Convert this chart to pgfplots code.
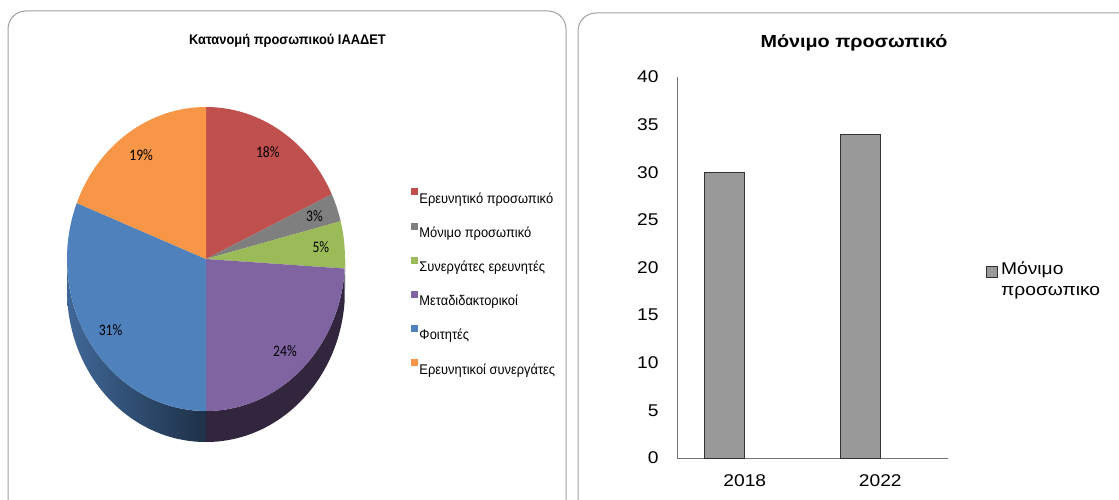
\documentclass[border=0pt]{standalone}
\usepackage{pgfplots}
\pgfplotsset{compat=1.18}
\usepackage{pgfplotstable}
\usepackage{fontspec}
\setmainfont{Liberation Sans}
\newfontfamily\rfont[FakeStretch=1.13]{Liberation Sans}
\newfontfamily\lfont[FakeStretch=0.92]{Liberation Sans}
\newfontfamily\pfont[FakeStretch=0.85]{Carlito}
\newcommand\pctfont{\pfont\fontsize{16}{19}\selectfont}

\definecolor{cRed}{HTML}{C0504D}
\definecolor{cGray}{HTML}{7F7F7F}
\definecolor{cGreen}{HTML}{9BBB59}
\definecolor{cPurple}{HTML}{8064A2}
\definecolor{cBlue}{HTML}{4F81BD}
\definecolor{cOrange}{HTML}{F79646}
\definecolor{barGray}{HTML}{999999}
\definecolor{panelGray}{HTML}{A0A0A0}

% pie: share in percent, slices clockwise from the top
\pgfplotstableread{
value color
18 cRed
3 cGray
5 cGreen
24 cPurple
31 cBlue
19 cOrange
}\piedata

% bar chart: permanent staff
\pgfplotstableread{
x year staff
0 2018 30
1 2022 34
}\bardata

\def\rx{139pt}
\def\ry{152pt}
\def\depth{0.204}

\begin{document}
\begin{tikzpicture}[x=1pt,y=1pt]
\useasboundingbox (0,0) rectangle (1119,499);
\clip (0,0) rectangle (1119,499);
% panels
\draw[panelGray, line width=1pt, fill=white, rounded corners=18pt] (8,488) rectangle (566,-20);
\draw[panelGray, line width=1pt, fill=white, rounded corners=18pt] (578,486) rectangle (1140,-20);

% titles
\node[font=\lfont\bfseries\fontsize{14}{16}\selectfont] at (287.5,458) {Κατανομή προσωπικού ΙΑΑΔΕΤ};
\node[font=\rfont\bfseries\fontsize{17.5}{20}\selectfont] at (854,456) {Μόνιμο προσωπικό};

% ---------------- pie ----------------
\begin{axis}[
  at={(206pt,240pt)}, anchor=center,
  hide axis, clip=false,
  x=139pt, y=152pt,
  xmin=-1, xmax=1, ymin=-1, ymax=1,
  legend image code/.code={\fill[#1] (0pt,5pt) rectangle (6pt,11pt);},
  legend cell align=left,
  legend style={at={(axis description cs:1.237,0.733)}, anchor=north west,
    draw=none, fill=none, inner sep=0pt, row sep=15.5pt, column sep=2pt,
    font=\lfont\fontsize{14}{16}\selectfont,
    nodes={inner sep=0pt, text height=11pt, text depth=4pt}},
]
\pgfplotstablegetrowsof{\piedata}
\pgfmathtruncatemacro\lastrow{\pgfplotsretval-1}
% sides (3D depth)
\def\angA{90}
\pgfplotsforeachungrouped \i in {0,...,\lastrow}{%
  \pgfplotstablegetelem{\i}{value}\of\piedata \let\val\pgfplotsretval
  \pgfplotstablegetelem{\i}{color}\of\piedata \let\col\pgfplotsretval
  \pgfmathsetmacro\angB{\angA-3.6*\val}
  \pgfmathsetmacro\lo{max(\angB,-180)}
  \pgfmathsetmacro\hi{min(\angA,0)}
  \ifdim\lo pt<\hi pt
    \pgfmathtruncatemacro\Lc{38+42*max(0,-cos(\lo))}
    \pgfmathtruncatemacro\Rc{38+42*max(0,-cos(\hi))}
    \edef\cmd{\noexpand\shade[left color=\col!\Lc!black, right color=\col!\Rc!black]
      (axis cs:{cos(\lo)},{sin(\lo)}) arc[start angle=\lo, end angle=\hi, x radius=\rx, y radius=\ry]
      -- ++(axis direction cs:0,-\depth)
      arc[start angle=\hi, end angle=\lo, x radius=\rx, y radius=\ry] -- cycle;}%
    \cmd
  \fi
  \let\angA\angB
}
% top faces and labels
\def\angA{90}
\pgfplotsforeachungrouped \i in {0,...,\lastrow}{%
  \pgfplotstablegetelem{\i}{value}\of\piedata \let\val\pgfplotsretval
  \pgfplotstablegetelem{\i}{color}\of\piedata \let\col\pgfplotsretval
  \pgfmathsetmacro\angB{\angA-3.6*\val}
  \pgfmathsetmacro\mid{(\angA+\angB)/2}
  \edef\cmd{\noexpand\fill[\col] (axis cs:0,0) -- (axis cs:{cos(\angA)},{sin(\angA)})
      arc[start angle=\angA, end angle=\angB, x radius=\rx, y radius=\ry] -- cycle;
    \noexpand\node[font=\noexpand\pctfont] at (axis cs:{0.83*cos(\mid)},{0.83*sin(\mid)}) {\val\noexpand\%};}%
  \cmd
  \let\angA\angB
}
\addlegendimage{cRed}\addlegendentry{Ερευνητικό προσωπικό}
\addlegendimage{cGray}\addlegendentry{Μόνιμο προσωπικό}
\addlegendimage{cGreen}\addlegendentry{Συνεργάτες ερευνητές}
\addlegendimage{cPurple}\addlegendentry{Μεταδιδακτορικοί}
\addlegendimage{cBlue}\addlegendentry{Φοιτητές}
\addlegendimage{cOrange}\addlegendentry{Ερευνητικοί συνεργάτες}
\end{axis}

% ---------------- bar chart ----------------
\begin{axis}[
  at={(677pt,41pt)}, anchor=south west,
  x=135.5pt, y=9.525pt,
  xmin=-0.5, xmax=1.5, ymin=0, ymax=40,
  axis x line=bottom, axis y line=left,
  axis line style={-, black!55, line width=1pt},
  xtick={0,1}, xticklabels={2018,2022},
  ytick={0,5,...,40},
  major tick length=0pt,
  tick label style={font=\rfont\fontsize{17}{20}\selectfont},
  /pgf/number format/assume math mode=true,
  yticklabel style={xshift=-15pt},
  xticklabel style={yshift=-13pt},
  clip=false,
  legend cell align=left,
  legend style={at={(axis description cs:1.140,0.517)}, anchor=north west,
    draw=none, fill=none, inner sep=0pt, column sep=3pt,
    font=\rfont\fontsize{17}{21}\selectfont,
    cells={align=left}, nodes={inner sep=0pt}},
]
\addplot[ybar, bar width=40pt, bar shift=-20pt, fill=barGray, draw=black!80, line width=1pt, forget plot]
  table[x=x, y=staff] {\bardata};
\addlegendimage{legend image code/.code={\draw[fill=barGray, draw=black!80, line width=1pt] (0pt,1.5pt) rectangle (11pt,12.5pt);}}
\addlegendentry{Μόνιμο\\προσωπικο}
\end{axis}
\end{tikzpicture}
\end{document}
